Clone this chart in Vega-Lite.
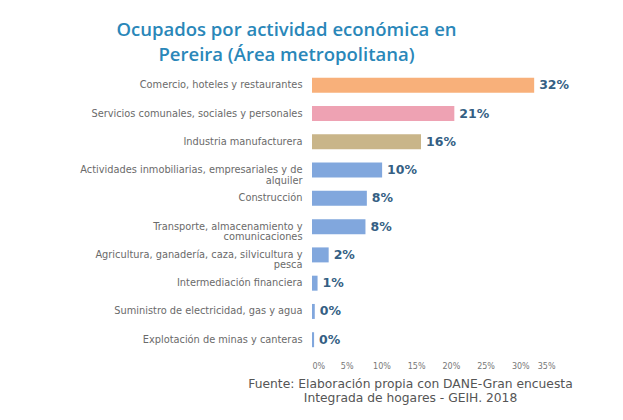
{
  "$schema": "https://vega.github.io/schema/vega-lite/v6.json",
  "autosize": "none",
  "width": 243,
  "height": 283,
  "padding": {"left": 312, "top": 71, "right": 68, "bottom": 66},
  "background": "white",
  "title": {
    "text": ["Ocupados por actividad económica en", "Pereira (Área metropolitana)"],
    "anchor": "middle",
    "frame": "group",
    "dx": -147,
    "font": "Open Sans",
    "fontSize": 18.5,
    "fontWeight": 600,
    "color": "#2a87b9",
    "lineHeight": 24.5,
    "offset": 7
  },
  "data": {
    "values": [
      {"actividad": "Comercio, hoteles y restaurantes", "orden": 1, "valor": 0.32, "grupo": "a"},
      {"actividad": "Servicios comunales, sociales y personales", "orden": 2, "valor": 0.205, "grupo": "b"},
      {"actividad": "Industria manufacturera", "orden": 3, "valor": 0.157, "grupo": "c"},
      {"actividad": "Actividades inmobiliarias, empresariales y de alquiler", "orden": 4, "valor": 0.101, "grupo": "d"},
      {"actividad": "Construcción", "orden": 5, "valor": 0.079, "grupo": "d"},
      {"actividad": "Transporte, almacenamiento y comunicaciones", "orden": 6, "valor": 0.077, "grupo": "d"},
      {"actividad": "Agricultura, ganadería, caza, silvicultura y pesca", "orden": 7, "valor": 0.024, "grupo": "d"},
      {"actividad": "Intermediación financiera", "orden": 8, "valor": 0.008, "grupo": "d"},
      {"actividad": "Suministro de electricidad, gas y agua", "orden": 9, "valor": 0.004, "grupo": "d"},
      {"actividad": "Explotación de minas y canteras", "orden": 10, "valor": 0.003, "grupo": "d"}
    ]
  },
  "encoding": {
    "y": {
      "field": "actividad",
      "type": "nominal",
      "sort": {"field": "orden", "order": "ascending"},
      "scale": {"paddingInner": 0.47, "paddingOuter": 0.24},
      "axis": {
        "title": null,
        "domain": false,
        "ticks": false,
        "labelPadding": 10,
        "labelFont": "DejaVu Sans",
        "labelFontSize": 9.8,
        "labelColor": "#6a6a6a",
        "labelLimit": 300,
        "labelLineHeight": 10.5,
        "labelExpr": "datum.label == 'Actividades inmobiliarias, empresariales y de alquiler' ? ['Actividades inmobiliarias, empresariales y de', 'alquiler'] : datum.label == 'Transporte, almacenamiento y comunicaciones' ? ['Transporte, almacenamiento y', 'comunicaciones'] : datum.label == 'Agricultura, ganadería, caza, silvicultura y pesca' ? ['Agricultura, ganadería, caza, silvicultura y', 'pesca'] : datum.label"
      }
    },
    "x": {
      "field": "valor",
      "type": "quantitative",
      "scale": {"domain": [0, 0.35], "nice": false},
      "axis": {
        "format": ".0%",
        "values": [0, 0.05, 0.1, 0.15, 0.2, 0.25, 0.3, 0.35],
        "grid": false,
        "domain": false,
        "ticks": false,
        "labelPadding": 8,
        "labelFont": "DejaVu Sans",
        "labelFontSize": 8,
        "labelColor": "#777777",
        "title": ["Fuente: Elaboración propia con DANE-Gran encuesta", "Integrada de hogares - GEIH. 2018"],
        "titleFont": "DejaVu Sans",
        "titleFontSize": 12.3,
        "titleFontWeight": "normal",
        "titleColor": "#555555",
        "titleLineHeight": 14,
        "titlePadding": 7,
        "titleX": 98
      }
    }
  },
  "layer": [
    {
      "mark": {"type": "bar"},
      "encoding": {
        "color": {
          "field": "grupo",
          "type": "nominal",
          "scale": {"domain": ["a", "b", "c", "d"], "range": ["#f8b07a", "#eea2b3", "#c9b589", "#81a7dd"]},
          "legend": null
        }
      }
    },
    {
      "mark": {"type": "text", "align": "left", "dx": 5, "font": "DejaVu Sans", "fontSize": 12.5, "fontWeight": "bold", "color": "#355f84"},
      "encoding": {
        "text": {"field": "valor", "type": "quantitative", "format": ".0%"}
      }
    }
  ],
  "config": {"view": {"stroke": null}}
}
